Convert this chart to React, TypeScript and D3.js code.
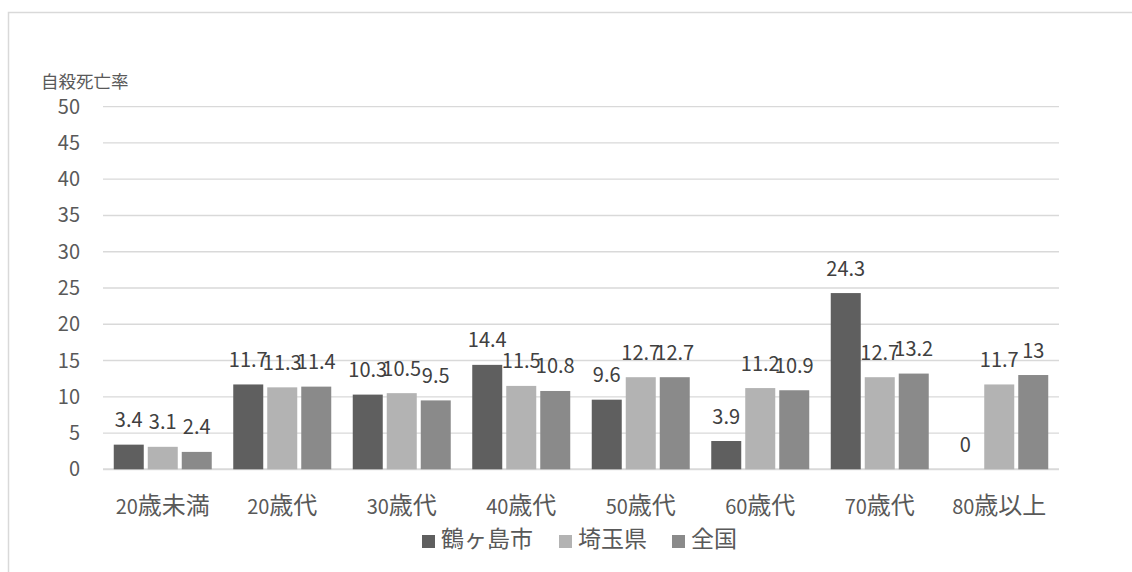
import React from "react";
import * as d3 from "d3";

const categories = ["20歳未満", "20歳代", "30歳代", "40歳代", "50歳代", "60歳代", "70歳代", "80歳以上"];
const seriesNames = ["鶴ヶ島市", "埼玉県", "全国"];
const tsurugashima = [3.4, 11.7, 10.3, 14.4, 9.6, 3.9, 24.3, 0];
const saitama = [3.1, 11.3, 10.5, 11.5, 12.7, 11.2, 12.7, 11.7];
const zenkoku = [2.4, 11.4, 9.5, 10.8, 12.7, 10.9, 13.2, 13];
const yTicks = [0, 5, 10, 15, 20, 25, 30, 35, 40, 45, 50];
const colors = ["#5f5f5f", "#b3b3b3", "#8a8a8a"];

const W = 1132;
const H = 572;
const FONT = "'Noto Sans CJK JP', 'Noto Sans', sans-serif";

function mixed(label: string, digitSize: number, cjkSize: number) {
  const parts = label.match(/[0-9]+|[^0-9]+/g) || [];
  return parts.map((p, i) => (
    <tspan key={i} fontSize={/[0-9]/.test(p) ? digitSize : cjkSize}>{p}</tspan>
  ));
}

export default function App() {
  const series = [tsurugashima, saitama, zenkoku];
  const x = d3.scaleBand<string>().domain(categories).range([103, 1059]).paddingInner(0).paddingOuter(0);
  const y = d3.scaleLinear().domain([0, 50]).range([469.3, 106.7]);
  const barW = 30;
  const step = 34;
  const gW = step * 2 + barW;

  const legendX = [422, 559, 672];

  return (
    <svg width={W} height={H} style={{ position: "absolute", left: 0, top: 0, background: "#fff" }} fontFamily={FONT}>
      <rect x={0} y={0} width={W} height={H} fill="#fff" />
      <rect x={8.5} y={12.5} width={W} height={H} fill="none" stroke="#d9d9d9" strokeWidth={1.5} />
      <text x={41} y={88} fontSize={17.5} fill="#595959">自殺死亡率</text>
      {yTicks.map((t) => (
        <g key={t}>
          <line x1={103} x2={1059} y1={y(t)} y2={y(t)} stroke="#d9d9d9" strokeWidth={t === 0 ? 2 : 1.3} />
          <text x={80} y={y(t)} dy="0.35em" textAnchor="end" fontSize={20} fill="#595959">{t}</text>
        </g>
      ))}
      {categories.map((c, i) => {
        const cx = (x(c) as number) + x.bandwidth() / 2;
        const x0 = cx - gW / 2;
        return (
          <g key={c}>
            {series.map((s, j) => {
              const v = s[i];
              const bx = x0 + j * step;
              return (
                <g key={j}>
                  <rect x={bx} y={y(v)} width={barW} height={y(0) - y(v)} fill={colors[j]} />
                  <text x={bx + barW / 2} y={y(v) - 17.5} textAnchor="middle" fontSize={20} fill="#404040">{v}</text>
                </g>
              );
            })}
            <text x={cx} y={514} textAnchor="middle" fill="#595959">{mixed(c, 20, 24)}</text>
          </g>
        );
      })}
      {seriesNames.map((n, j) => (
        <g key={n}>
          <rect x={legendX[j]} y={535} width={13} height={13} fill={colors[j]} />
          <text x={legendX[j] + 19} y={547} fontSize={23} fill="#595959">{n}</text>
        </g>
      ))}
    </svg>
  );
}
